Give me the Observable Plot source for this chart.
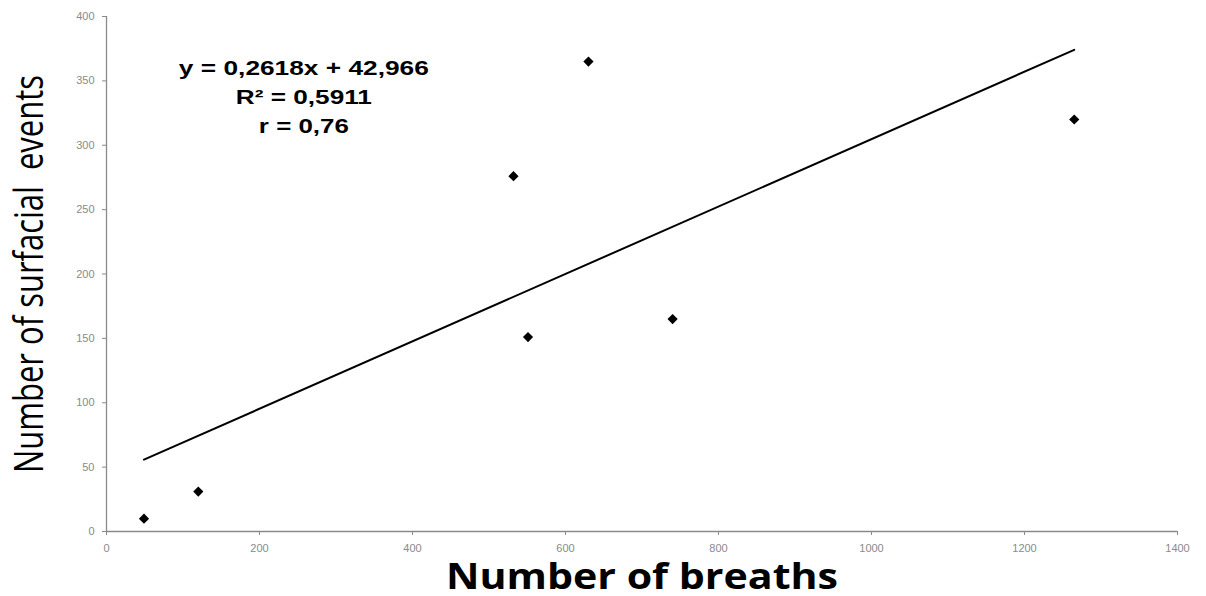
<!DOCTYPE html>
<html>
<head>
<meta charset="utf-8">
<script src="https://cdn.jsdelivr.net/npm/d3@7"></script>
<script src="https://cdn.jsdelivr.net/npm/@observablehq/plot@0.6"></script>
<style>
  html, body { margin: 0; padding: 0; background: #fff; }
</style>
</head>
<body>
<div id="chart"></div>
<script>
// Breaths vs. surfacial events per individual
const breaths = [49, 120, 532, 551, 630, 740, 1265];
const events  = [10, 31, 276, 151, 365, 165, 320];

// Linear fit reported on the chart
const slope = 0.2618;
const intercept = 42.966;
const rSquared = 0.5911;
const rValue = 0.76;

const xTicks = [0, 200, 400, 600, 800, 1000, 1200, 1400];
const yTicks = [0, 50, 100, 150, 200, 250, 300, 350, 400];

const xTitle = "Number of breaths";
const yTitle = "Number of surfacial  events";

const points = breaths.map((b, i) => ({breaths: b, events: events[i]}));
const xMin = d3.min(breaths), xMax = d3.max(breaths);
const fit = [xMin, xMax].map(x => ({breaths: x, events: slope * x + intercept}));

const comma = v => String(v).replace(".", ",");
const fitLines = [
  `y = ${comma(slope)}x + ${comma(intercept)}`,
  `R² = ${comma(rSquared)}`,
  `r = ${comma(rValue)}`
];

const axisGray = "#8a8a8a";

const chart = Plot.plot({
  width: 1206,
  height: 596,
  marginLeft: 106,
  marginRight: 29,
  marginTop: 16,
  marginBottom: 65,
  style: {background: "#fff", fontFamily: "Arial, 'Liberation Sans', sans-serif"},
  x: {domain: [0, 1400]},
  y: {domain: [0, 400]},
  marks: [
    Plot.axisX({ticks: xTicks, tickFormat: d => String(d), tickSize: 4, tickPadding: 9, fontSize: 11, color: axisGray, label: null}),
    Plot.axisY({ticks: yTicks, tickFormat: d => String(d), tickSize: 4, tickPadding: 8, fontSize: 11, color: axisGray, label: null}),
    Plot.ruleY([0], {stroke: axisGray, strokeWidth: 1.3}),
    Plot.ruleX([0], {stroke: axisGray, strokeWidth: 1.3}),
    Plot.line(fit, {x: "breaths", y: "events", stroke: "#000", strokeWidth: 2}),
    Plot.dot(points, {x: "breaths", y: "events", symbol: "diamond2", r: 4.6, fill: "#000", stroke: "none"}),
    Plot.text([fitLines.join("\n")], {
      x: 258, y: 339, text: d => d, textAnchor: "middle", lineHeight: 1.38,
      fontSize: 21, fontWeight: "bold", fill: "#000",
      fontFamily: "'Liberation Sans', Arial, sans-serif"
    }),
    Plot.text([xTitle], {
      frameAnchor: "bottom", lineAnchor: "bottom", dy: 57, text: d => d, fontSize: 35, fontWeight: "bold",
      fill: "#000", fontFamily: "'Open Sans', sans-serif"
    }),
    Plot.text([yTitle], {
      frameAnchor: "left", textAnchor: "middle", dx: -76, dy: 0, rotate: -90, text: d => d,
      fontSize: 40, fill: "#000", fontFamily: "'Open Sans', sans-serif"
    })
  ]
});

document.getElementById("chart").append(chart);

// Fit the titles and fit statistics to their drawn lengths
const texts = d3.select(chart).selectAll("text");
texts.filter(function () { return this.textContent === yTitle; })
  .attr("textLength", 398).attr("lengthAdjust", "spacingAndGlyphs").style("white-space", "pre");
texts.filter(function () { return this.textContent === xTitle; })
  .attr("textLength", 392).attr("lengthAdjust", "spacingAndGlyphs");
const fitWidths = [250, 136, 90];
d3.select(chart).selectAll("tspan").each(function () {
  const i = fitLines.indexOf(this.textContent);
  if (i >= 0) d3.select(this).attr("textLength", fitWidths[i]).attr("lengthAdjust", "spacingAndGlyphs");
});
</script>
</body>
</html>
